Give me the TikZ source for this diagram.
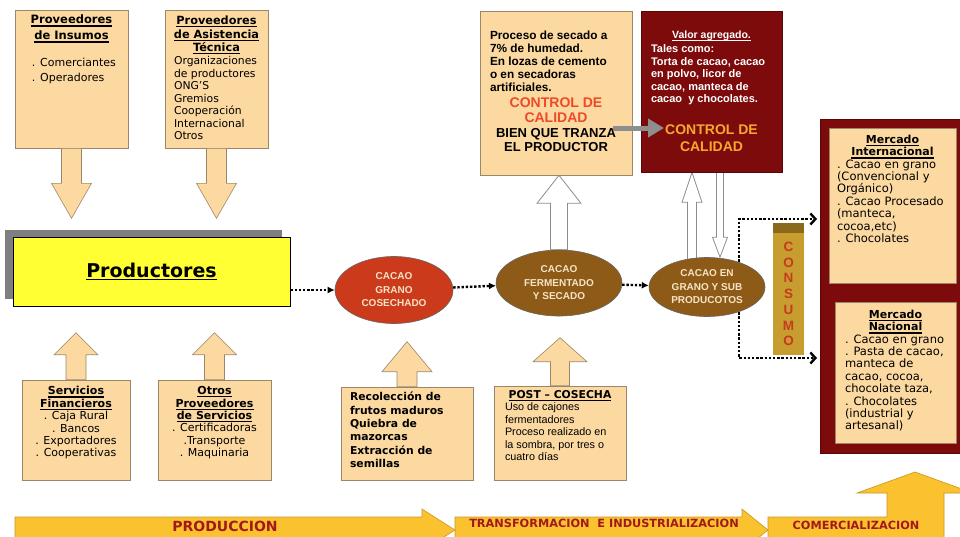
\documentclass[tikz,border=0pt]{standalone}
\usepackage{fontspec}
\setmainfont{DejaVu Sans}
\newfontfamily\arialfont{Liberation Sans}
\usetikzlibrary{shapes.geometric,arrows.meta,calc,shadows}

\definecolor{peach}{HTML}{FCD9A1}
\definecolor{peachline}{HTML}{9A8668}
\definecolor{wine}{HTML}{7D0B0B}
\definecolor{prodyellow}{HTML}{FFFF33}
\definecolor{shadowgray}{HTML}{7F7F7F}
\definecolor{ellred}{HTML}{CB3A1B}
\definecolor{ellbrown}{HTML}{8D5B17}
\definecolor{elltext}{HTML}{F7E4C6}
\definecolor{ctrlred}{HTML}{EE4A2A}
\definecolor{ctrlorange}{HTML}{F6A730}
\definecolor{gold}{HTML}{FBC230}
\definecolor{goldline}{HTML}{C9951F}
\definecolor{stagered}{HTML}{A3181A}
\definecolor{consgold}{HTML}{C89D2F}
\definecolor{consband}{HTML}{8A6A1A}
\definecolor{consred}{HTML}{C43B1F}
\definecolor{arrowgray}{HTML}{8E8E8E}

\pgfdeclarelayer{back}
\pgfsetlayers{back,main}

\newcommand\undl[1]{\leavevmode\setbox0\hbox{#1}\rlap{\vrule height -1.6pt depth 2.8pt width \wd0}\box0}
\newcommand\boxtxt[3]{\parbox[c][#2][t]{#1}{#3}}
% block arrows: style, base, tip, stem half width, head half width, head length
\newcommand\blockup[6]{\draw[#1] let \p1=(#2), \p2=(#3) in
  (\x1-#4,\y1) -- (\x1-#4,\y2-#6) -- (\x1-#5,\y2-#6) -- (\x1,\y2)
  -- (\x1+#5,\y2-#6) -- (\x1+#4,\y2-#6) -- (\x1+#4,\y1) -- cycle;}
\newcommand\blockdown[6]{\draw[#1] let \p1=(#2), \p2=(#3) in
  (\x1-#4,\y1) -- (\x1-#4,\y2+#6) -- (\x1-#5,\y2+#6) -- (\x1,\y2)
  -- (\x1+#5,\y2+#6) -- (\x1+#4,\y2+#6) -- (\x1+#4,\y1) -- cycle;}

\begin{document}
\begin{tikzpicture}[x=1pt,y=-1pt,
  pbox/.style={draw=peachline, fill=peach, line width=0.6pt, inner sep=0pt},
  rbox/.style={draw=wine!70!black, fill=wine, line width=0.6pt, inner sep=0pt},
  ellnode/.style={ellipse, draw=black!60, line width=0.6pt, inner sep=0pt, text=elltext, align=center,
    font=\arialfont\bfseries\fontsize{10}{13.5}\selectfont},
  pfill/.style={fill=peach, draw=peachline, line width=0.6pt},
  wfill/.style={fill=white, draw=black!45, line width=0.8pt},
  gold/.style={fill=gold, draw=goldline, line width=0.6pt},
  stagelbl/.style={text=stagered, inner sep=0pt, font=\bfseries\fontsize{11.3}{13}\selectfont},
  flow/.style={line width=2.4pt, dash pattern=on 2.4pt off 1.8pt, -{Latex[length=7pt,width=7pt]}},
  mflow/.style={line width=2.4pt, dash pattern=on 2.4pt off 1.8pt, -{Straight Barb[length=5pt,width=11pt]}}]
\useasboundingbox (0,0) rectangle (960,536);
\clip (0,0) rectangle (960,536);

% stages at the bottom
\draw[gold] (455,517) -- (742,517) -- (742,509) -- (768,530) -- (742,551) -- (742,543) -- (455,543) -- cycle;
\draw[gold] (15,517) -- (422,517) -- (422,509) -- (455,530) -- (422,551) -- (422,543) -- (15,543) -- cycle;
\draw[gold] (768,517) -- (887,517) -- (887,493) -- (857,493) -- (915,472) -- (973,493) -- (944,493) -- (944,560) -- (768,560) -- cycle;
\node[stagelbl, font=\bfseries\fontsize{14}{16}\selectfont] (produccion) at (225,526.5) {PRODUCCION};
\node[stagelbl] (transformacion) at (604,523) {TRANSFORMACION\ \ E INDUSTRIALIZACION};
\node[stagelbl] (comercializacion) at (856,525) {COMERCIALIZACION};

% suppliers
\node[pbox, font=\fontsize{11}{15}\selectfont] (insumos) at (71.5,79)
  {\boxtxt{113pt}{138pt}{\vspace*{5pt}{\centering\bfseries\fontsize{11.5}{16}\selectfont\undl{Proveedores}\\\undl{de Insumos}\par}%
   \vspace{12pt}{\leftskip=17pt . Comerciantes\\. Operadores\par}}};
\node[pbox, font=\fontsize{10.8}{12.5}\selectfont] (asistencia) at (216.5,79)
  {\boxtxt{103pt}{138pt}{\vspace*{6pt}{\centering\bfseries\fontsize{11.3}{13.5}\selectfont\undl{Proveedores}\\\undl{de Asistencia}\\\undl{Técnica}\par}%
   \vspace{0.5pt}{\leftskip=9pt Organizaciones\\de productores\\ONG’S\\Gremios\\Cooperación\\Internacional\\Otros\par}}};

\node[draw, line width=0.8pt, fill=prodyellow, minimum width=277, minimum height=69,
  general shadow={fill=shadowgray, shadow xshift=-8pt, shadow yshift=7pt},
  font=\bfseries\fontsize{19}{21}\selectfont] (prod) at (151.5,271.5) {\raisebox{-6pt}{\undl{Productores}}};

\node[pbox, font=\fontsize{11}{12.4}\selectfont] (servicios) at (76,430)
  {\boxtxt{108pt}{100pt}{\vspace*{6.5pt}\centering\textbf{\undl{Servicios}}\\\textbf{\undl{Financieros}}\\%
   . Caja Rural\\. Bancos\\. Exportadores\\. Cooperativas}};
\node[pbox, font=\fontsize{11}{12.4}\selectfont] (otros) at (214.5,430)
  {\boxtxt{113pt}{100pt}{\vspace*{6.5pt}\centering\textbf{\undl{Otros}}\\\textbf{\undl{Proveedores}}\\\textbf{\undl{de Servicios}}\\%
   . Certificadoras\\.Transporte\\. Maquinaria}};

% process chain
\node[ellnode, fill=ellred, minimum width=118, minimum height=67] (ell1) at (394,290) {CACAO\\GRANO\\COSECHADO};
\node[ellnode, fill=ellbrown, minimum width=126, minimum height=66] (ell2) at (559,283) {CACAO\\FERMENTADO\\Y SECADO};
\node[ellnode, fill=ellbrown, minimum width=116, minimum height=59] (ell3) at (707,287) {CACAO EN\\GRANO Y SUB\\PRODUCOTOS};

\node[pbox, font=\bfseries\fontsize{10.8}{13.4}\selectfont] (recoleccion) at (407,433.5)
  {\boxtxt{132pt}{93pt}{\vspace*{5pt}{\leftskip=9pt Recolección de\\frutos maduros\\Quiebra de\\mazorcas\\Extracción de\\semillas\par}}};
\node[pbox, font=\fontsize{10.8}{12.5}\selectfont] (postcosecha) at (560,433)
  {\boxtxt{132pt}{94pt}{\vspace*{4pt}{\centering\bfseries\undl{POST – COSECHA}\par}%
   {\arialfont\leftskip=11pt Uso de cajones\\fermentadores\\Proceso realizado en\\la sombra, por tres o\\cuatro días\par}}};

\node[pbox, font=\arialfont\bfseries\fontsize{11.8}{13}\selectfont] (proceso) at (556,93)
  {\boxtxt{152pt}{164pt}{\vspace*{20pt}{\leftskip=10pt Proceso de secado a\\7\% de humedad.\\En lozas de cemento\\o en secadoras\\artificiales.\par}%
   {\centering\color{ctrlred}\fontsize{14}{15.5}\selectfont CONTROL DE\\CALIDAD\par}%
   {\centering\fontsize{13}{14.5}\selectfont BIEN QUE TRANZA\\EL PRODUCTOR\par}}};
\node[rbox, text=white, font=\arialfont\bfseries\fontsize{11}{12.5}\selectfont] (valor) at (711.5,91.5)
  {\boxtxt{141pt}{161pt}{\vspace*{20pt}{\centering\fontsize{10.5}{12.5}\selectfont\undl{Valor agregado.}\par}\vspace{1.5pt}%
   {\leftskip=10pt Tales como:\\Torta de cacao, cacao\\en polvo, licor de\\cacao, manteca de\\cacao\ \ y chocolates.\par}%
   \vspace{15pt}{\centering\color{ctrlorange}\fontsize{14}{17}\selectfont CONTROL DE\\CALIDAD\par}}};

% markets
\node[rbox, minimum width=150, minimum height=334] (mercados) at (895,286) {};
\node[pbox, font=\fontsize{11.5}{12.4}\selectfont] (intl) at (892.5,205.5)
  {\boxtxt{127pt}{155pt}{\vspace*{7pt}{\centering\bfseries\fontsize{11}{12.4}\selectfont\undl{Mercado}\\\undl{Internacional}\par}%
   {\leftskip=8pt . Cacao en grano\\(Convencional y\\Orgánico)\\. Cacao Procesado\\(manteca,\\cocoa,etc)\\. Chocolates\par}}};
\node[pbox, font=\fontsize{11.5}{12.4}\selectfont] (nacional) at (895.5,372.5)
  {\boxtxt{121pt}{141pt}{\vspace*{8pt}{\centering\bfseries\fontsize{11}{12.4}\selectfont\undl{Mercado}\\\undl{Nacional}\par}%
   {\leftskip=10pt . Cacao en grano\\. Pasta de cacao,\\manteca de\\cacao, cocoa,\\chocolate taza,\\. Chocolates\\(industrial y\\artesanal)\par}}};

\node[fill=consgold, minimum width=31, minimum height=122, align=center, text=consred,
  font=\arialfont\bfseries\fontsize{13.5}{15.7}\selectfont] (consumo) at (788.5,294) {C\\O\\N\\S\\U\\M\\O};
\fill[consband] (consumo.north west) rectangle ($(consumo.north east)+(0,-10)$);

% block arrows
\blockdown{pfill}{insumos.south}{$(insumos.south)+(0,70)$}{10pt}{20pt}{35pt}
\blockdown{pfill}{asistencia.south}{$(asistencia.south)+(0,70)$}{10pt}{20pt}{35pt}
\blockup{pfill}{servicios.north}{$(servicios.north)+(0,-47)$}{10pt}{22pt}{22pt}
\blockup{pfill}{otros.north}{$(otros.north)+(0,-47)$}{10pt}{22pt}{22pt}
\blockup{pfill}{recoleccion.north}{$(recoleccion.north)+(0,-45)$}{10pt}{25pt}{30pt}
\blockup{pfill}{postcosecha.north}{$(postcosecha.north)+(0,-48)$}{9.5pt}{27pt}{24pt}

\begin{pgfonlayer}{back}
  \blockup{wfill}{ell2.north}{ell2.north |- proceso.south}{8.5pt}{22pt}{28pt}
  \blockup{wfill}{$(ell3.north)+(-15,5)$}{$(ell3.north |- valor.south)+(-15,0)$}{4.5pt}{10pt}{30pt}
  \blockdown{wfill}{$(ell3.north |- valor.south)+(13,0)$}{$(ell3.north)+(13,0)$}{3.5pt}{7.5pt}{20pt}
  \coordinate (split) at ($(ell3.center)+(32,0)$);
  \coordinate (intlin) at (817,219);
  \coordinate (nacin) at (817,358);
  \draw[mflow] (split) |- (intlin);
  \draw[mflow] (split) |- (nacin);
\end{pgfonlayer}

% dotted flow
\draw[flow] (prod.east |- ell1) -- (ell1);
\draw[flow] (ell1) -- (ell2);
\draw[flow] (ell2) -- (ell3);

\coordinate (tranza) at (613,128);
\coordinate (ctrlin) at (664,128);
\draw[line width=5pt, arrowgray, -{Triangle[length=16pt,width=18pt]}] (tranza) -- (ctrlin);
\end{tikzpicture}
\end{document}
